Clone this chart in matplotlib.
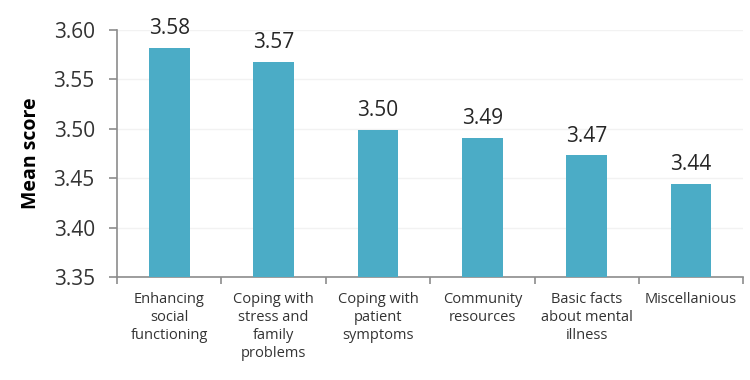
import numpy as np
import matplotlib.pyplot as plt

# Data
categories = ["Enhancing\nsocial\nfunctioning",
              "Coping with\nstress and\nfamily\nproblems",
              "Coping with\npatient\nsymptoms",
              "Community\nresources",
              "Basic facts\nabout mental\nillness",
              "Miscellanious"]
mean_scores = [3.582, 3.568, 3.499, 3.491, 3.473, 3.444]
value_labels = ["3.58", "3.57", "3.50", "3.49", "3.47", "3.44"]
y_ticks = [3.35, 3.40, 3.45, 3.50, 3.55, 3.60]

bar_color = "#4BACC6"
axis_color = "#8c8c8c"

plt.rcParams['font.family'] = ['Open Sans', 'DejaVu Sans']

fig = plt.figure(figsize=(7.5, 3.8), dpi=100)
ax = fig.add_axes([0.156, 0.271, 0.835, 0.650])

x = np.arange(len(categories))
bars = ax.bar(x, np.array(mean_scores) - 3.35, bottom=3.35, width=0.39,
              color=bar_color, zorder=3)

for xi, val, lab in zip(x, mean_scores, value_labels):
    ax.text(xi, val + 0.009, lab, ha='center', va='bottom',
            fontsize=15, color='#262626')

ax.set_ylim(3.35, 3.60)
ax.set_xlim(-0.5, len(categories) - 0.5)
ax.set_yticks(y_ticks)
ax.set_yticklabels([f"{t:.2f}" for t in y_ticks], fontsize=15, color='#333333')
ax.yaxis.grid(True, color='#f2f2f2', linewidth=1, zorder=0)

# category labels centered, ticks at category boundaries
ax.set_xticks(x)
ax.set_xticklabels(categories, fontsize=10.5, color='#333333', linespacing=1.25)
ax.tick_params(axis='x', length=0, pad=11)
ax.set_xticks(np.arange(-0.5, len(categories)), minor=True)
ax.tick_params(axis='x', which='minor', length=5, color=axis_color, width=1.2)
ax.tick_params(axis='y', length=6, color=axis_color, width=1.2, pad=10)

ax.set_ylabel("Mean score", fontsize=14, fontweight='bold', labelpad=9)

for side in ['top', 'right']:
    ax.spines[side].set_visible(False)
for side in ['left', 'bottom']:
    ax.spines[side].set_color(axis_color)
    ax.spines[side].set_linewidth(1.2)

fig.savefig("out.png", dpi=100)
